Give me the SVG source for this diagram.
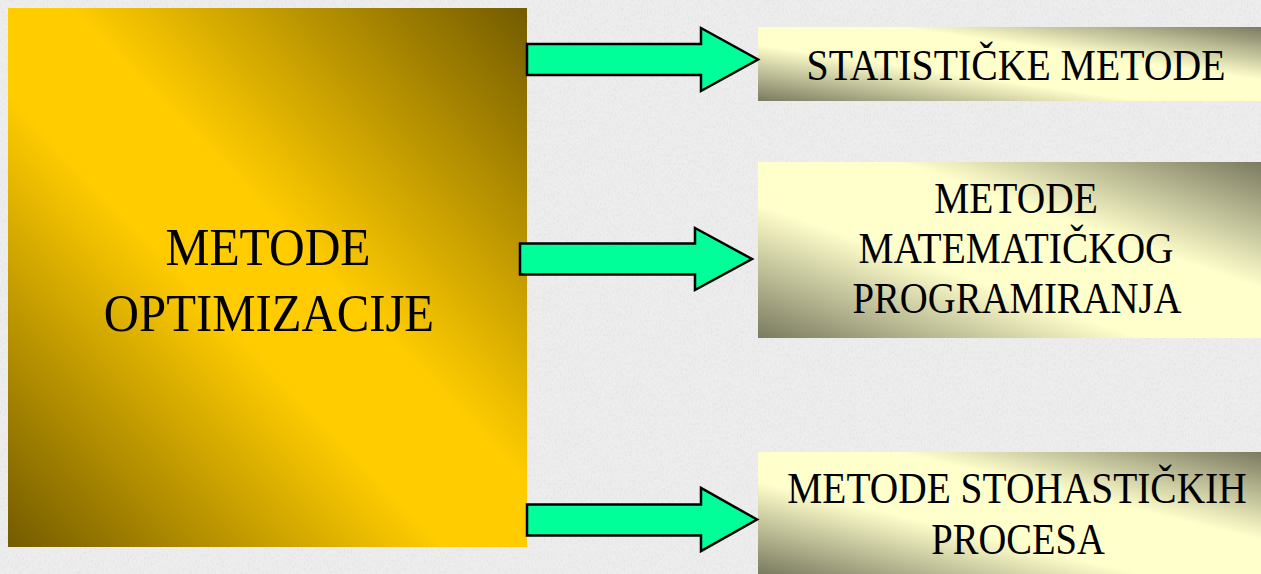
<svg xmlns="http://www.w3.org/2000/svg" width="1261" height="574" viewBox="0 0 1261 574">
  <defs>
    <!-- grainy paper texture for the slide background -->
    <filter id="grain" x="0" y="0" width="100%" height="100%">
      <feTurbulence type="fractalNoise" baseFrequency="0.7 0.35" numOctaves="3" seed="7" result="noise"/>
      <feColorMatrix in="noise" type="matrix" values="0 0 0 0 0.6  0 0 0 0 0.6  0 0 0 0 0.6  0 0 0 -1.6 0.85"/>
    </filter>
    <!-- gold panel: dark corners top-right and bottom-left -->
    <linearGradient id="gold" x1="1" y1="0" x2="0" y2="1">
      <stop offset="0" stop-color="#735b00"/>
      <stop offset="0.44" stop-color="#ffcc00"/>
      <stop offset="0.58" stop-color="#ffcc00"/>
      <stop offset="1" stop-color="#735b00"/>
    </linearGradient>
    <!-- pale yellow panels with olive corners -->
    <linearGradient id="cream" x1="1" y1="0" x2="0" y2="1">
      <stop offset="0" stop-color="#7a7a60"/>
      <stop offset="0.36" stop-color="#ffffcc"/>
      <stop offset="0.62" stop-color="#ffffcc"/>
      <stop offset="1" stop-color="#7a7a60"/>
    </linearGradient>
    <style>
      .label { font-family: "Liberation Serif", "Times New Roman", serif; fill: #000; text-anchor: middle; }
      .big { font-size: 53px; }
      .med { font-size: 44px; }
      .arrow { fill: #00ff99; stroke: #000; stroke-width: 2.5; stroke-linejoin: miter; }
    </style>
  </defs>

  <!-- background -->
  <rect x="0" y="0" width="1261" height="574" fill="#ededed"/>
  <rect x="0" y="0" width="1261" height="574" filter="url(#grain)" opacity="0.45"/>

  <!-- main panel -->
  <g id="metode-optimizacije">
    <rect x="8" y="8" width="519" height="539" fill="url(#gold)"/>
    <text class="label big" transform="translate(268 265) scale(0.92 1)" textLength="223" lengthAdjust="spacingAndGlyphs">METODE</text>
    <text class="label big" transform="translate(269 331) scale(0.92 1)" textLength="359" lengthAdjust="spacingAndGlyphs">OPTIMIZACIJE</text>
  </g>

  <g id="statisticke-metode">
    <rect x="758" y="27" width="503" height="74" fill="url(#cream)"/>
    <text class="label med" transform="translate(1016 80) scale(0.88 1)" textLength="476" lengthAdjust="spacingAndGlyphs">STATISTIČKE METODE</text>
  </g>

  <g id="matematicko-programiranje">
    <rect x="758" y="162" width="503" height="176" fill="url(#cream)"/>
    <text class="label med" transform="translate(1016 213) scale(0.88 1)" textLength="186" lengthAdjust="spacingAndGlyphs">METODE</text>
    <text class="label med" transform="translate(1016 263) scale(0.88 1)" textLength="358" lengthAdjust="spacingAndGlyphs">MATEMATIČKOG</text>
    <text class="label med" transform="translate(1017 313) scale(0.88 1)" textLength="374" lengthAdjust="spacingAndGlyphs">PROGRAMIRANJA</text>
  </g>

  <g id="stohasticki-procesi">
    <rect x="758" y="452" width="503" height="122" fill="url(#cream)"/>
    <text class="label med" transform="translate(1017 503) scale(0.88 1)" textLength="522" lengthAdjust="spacingAndGlyphs">METODE STOHASTIČKIH</text>
    <text class="label med" transform="translate(1018 554) scale(0.88 1)" textLength="197" lengthAdjust="spacingAndGlyphs">PROCESA</text>
  </g>

  <!-- block arrows from the main panel to each method group -->
  <g id="connectors">
    <polygon class="arrow" points="527,44 701,44 701,28 758,59.5 701,91 701,75 527,75"/>
    <polygon class="arrow" points="520,243.5 695,243.5 695,228 752,259 695,290 695,274.5 520,274.5"/>
    <polygon class="arrow" points="527,504.5 701,504.5 701,488 757,519.5 701,551 701,535.5 527,535.5"/>
  </g>
</svg>
